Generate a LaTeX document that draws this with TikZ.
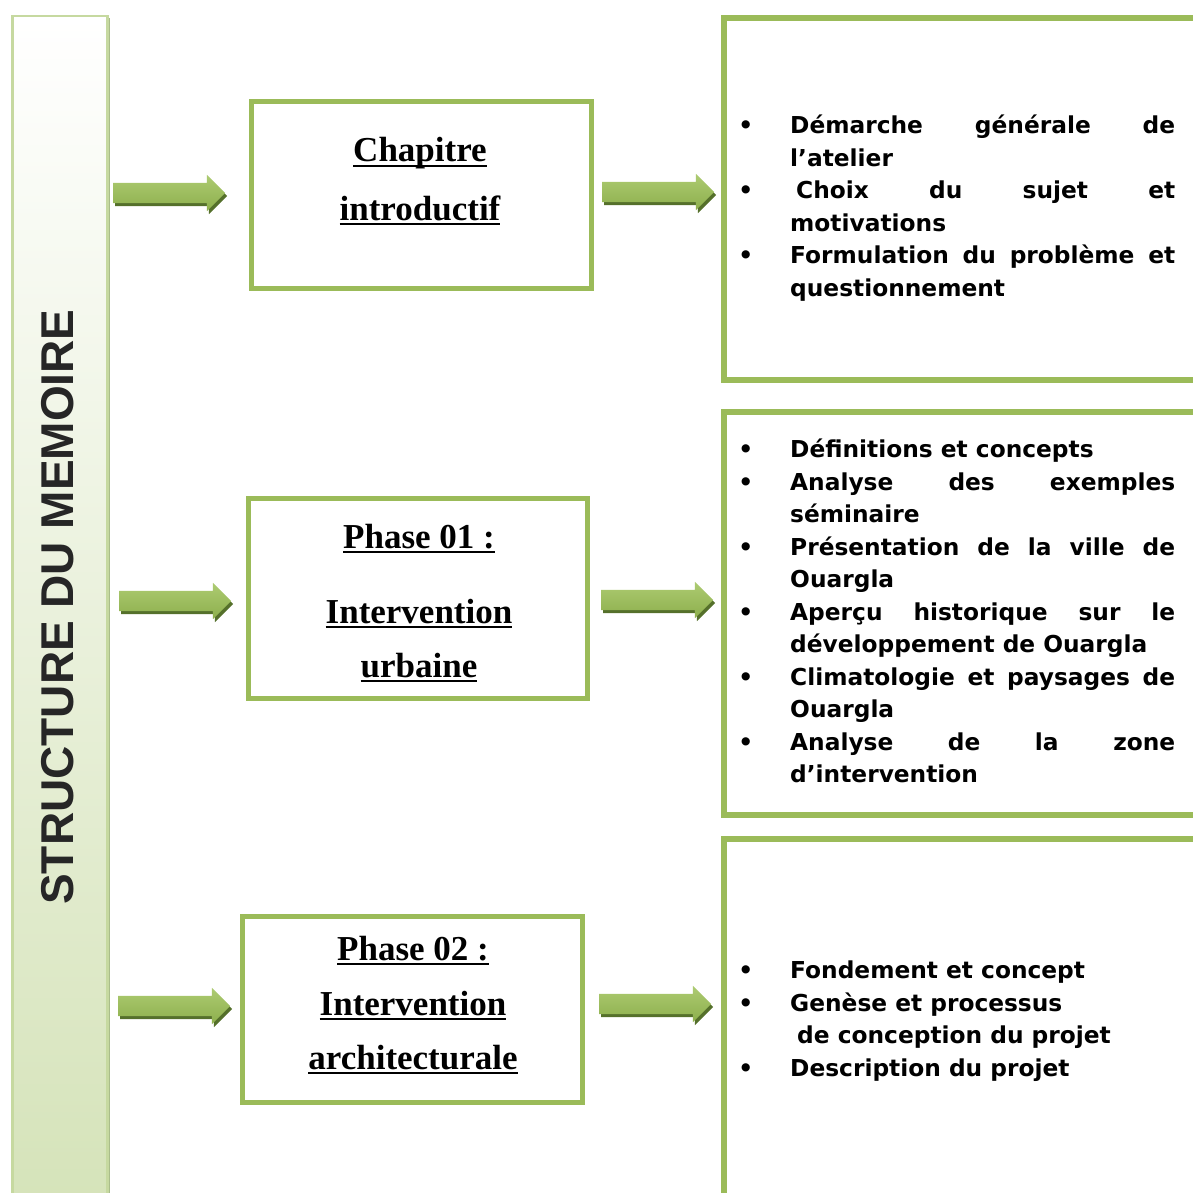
\documentclass[tikz,border=0pt]{standalone}
\usepackage{fontspec}
\setmainfont{Liberation Serif}
\newfontfamily\listfont{DejaVu Sans}
\newfontfamily\barfont{Liberation Sans}
\usepackage{enumitem}
\usetikzlibrary{shapes.arrows,shadows}

\definecolor{boxgreen}{HTML}{9BBB59}
\definecolor{bargreen}{HTML}{D5E3B9}
\definecolor{barline}{HTML}{C6D9A0}
\definecolor{barshadow}{HTML}{A9BC8A}
\definecolor{arrowtop}{HTML}{ADCB72}
\definecolor{arrowbot}{HTML}{8DAF4C}
\definecolor{arrowshadow}{HTML}{55702B}
\definecolor{bartext}{HTML}{262626}

\hyphenpenalty=10000
\tolerance=9999

\newcommand{\wordline}[1]{\setbox0\hbox{#1}\rlap{\rule[-4.5pt]{\wd0}{1.8pt}}\box0}

\tikzset{
  barbox/.style = {draw=barline, line width=2.5pt, top color=white, bottom color=bargreen,
    drop shadow={shadow xshift=2.5pt, shadow yshift=-2pt, fill=barshadow, opacity=1}},
  midbox/.style = {draw=boxgreen, line width=5pt, fill=white, inner sep=0pt},
  sidebox/.style = {draw=boxgreen, line width=6pt, inner sep=0pt},
  greenarrow/.style = {single arrow, single arrow head extend=8pt, minimum height=112pt,
    minimum width=36pt, inner xsep=0pt, inner ysep=10pt, top color=arrowtop, bottom color=arrowbot,
    drop shadow={shadow xshift=2pt, shadow yshift=-3pt, fill=arrowshadow, opacity=1}},
  phasetext/.style = {anchor=base, inner sep=0pt, font=\bfseries\fontsize{35}{40}\selectfont},
  listtext/.style = {anchor=north west, inner sep=0pt, text width=445pt, align=justify,
    font=\listfont\bfseries\fontsize{23.3}{32.5}\selectfont}
}

\setlist[itemize]{leftmargin=60pt, labelsep=37pt, itemsep=0pt, topsep=0pt, parsep=0pt,
  partopsep=0pt, label=\textbullet}

\begin{document}
\begin{tikzpicture}[x=1pt, y=1pt]
\useasboundingbox (0,0) rectangle (1193,-1193);

\node[barbox, minimum width=95pt, minimum height=1195pt, anchor=north west] (bar) at (11,-15) {};
\node[rotate=90, text=bartext, font=\barfont\bfseries\fontsize{46}{50}\selectfont] (title) at (58,-607) {STRUCTURE DU MEMOIRE};

\node[midbox, minimum width=340pt, minimum height=187pt] (chap) at (421.5,-195) {};
\node[midbox, minimum width=339pt, minimum height=200pt] (urb) at (418,-598.5) {};
\node[midbox, minimum width=340pt, minimum height=186pt] (arch) at (412.5,-1009.5) {};

\node[phasetext] (chapa) at (420,-162) {\wordline{Chapitre}};
\node[phasetext] (chapb) at (420,-220) {\wordline{introductif}};
\node[phasetext] (urba) at (419,-548) {\wordline{Phase 01 :}};
\node[phasetext] (urbb) at (419,-623) {\wordline{Intervention}};
\node[phasetext] (urbc) at (419,-677) {\wordline{urbaine}};
\node[phasetext] (archa) at (413,-960) {\wordline{Phase 02 :}};
\node[phasetext] (archb) at (413,-1015) {\wordline{Intervention}};
\node[phasetext] (archc) at (413,-1069) {\wordline{architecturale}};

\node[sidebox, minimum width=492pt, minimum height=362pt, anchor=north west] (intro) at (721,-15) {};
\node[sidebox, minimum width=492pt, minimum height=403pt, anchor=north west] (phaseone) at (721,-409) {};
\node[sidebox, minimum width=492pt, minimum height=377pt, anchor=north west] (phasetwo) at (721,-836) {};

\node[greenarrow] (a1) at (164,-193) {};
\node[greenarrow] (a2) at (170,-601) {};
\node[greenarrow] (a3) at (169,-1006) {};
\node[greenarrow] (b1) at (653,-192) {};
\node[greenarrow] (b2) at (652,-600) {};
\node[greenarrow] (b3) at (650,-1004) {};

\node[listtext] (list1) at (730,-101) {
\begin{itemize}
\item Démarche générale de\linebreak l’atelier
\item \hspace*{6pt}Choix du sujet et\linebreak motivations
\item Formulation du problème et\linebreak questionnement
\end{itemize}};

\node[listtext] (list2) at (730,-425) {
\begin{itemize}
\item Définitions et concepts
\item Analyse des exemples\linebreak séminaire
\item Présentation de la ville de\linebreak Ouargla
\item Aperçu historique sur le\linebreak développement de Ouargla
\item Climatologie et paysages de\linebreak Ouargla
\item Analyse de la zone\linebreak d’intervention
\end{itemize}};

\node[listtext] (list3) at (730,-946) {
\begin{itemize}
\item Fondement et concept
\item Genèse et processus\newline\hspace*{7pt}de conception du projet
\item Description du projet
\end{itemize}};
\end{tikzpicture}
\end{document}
